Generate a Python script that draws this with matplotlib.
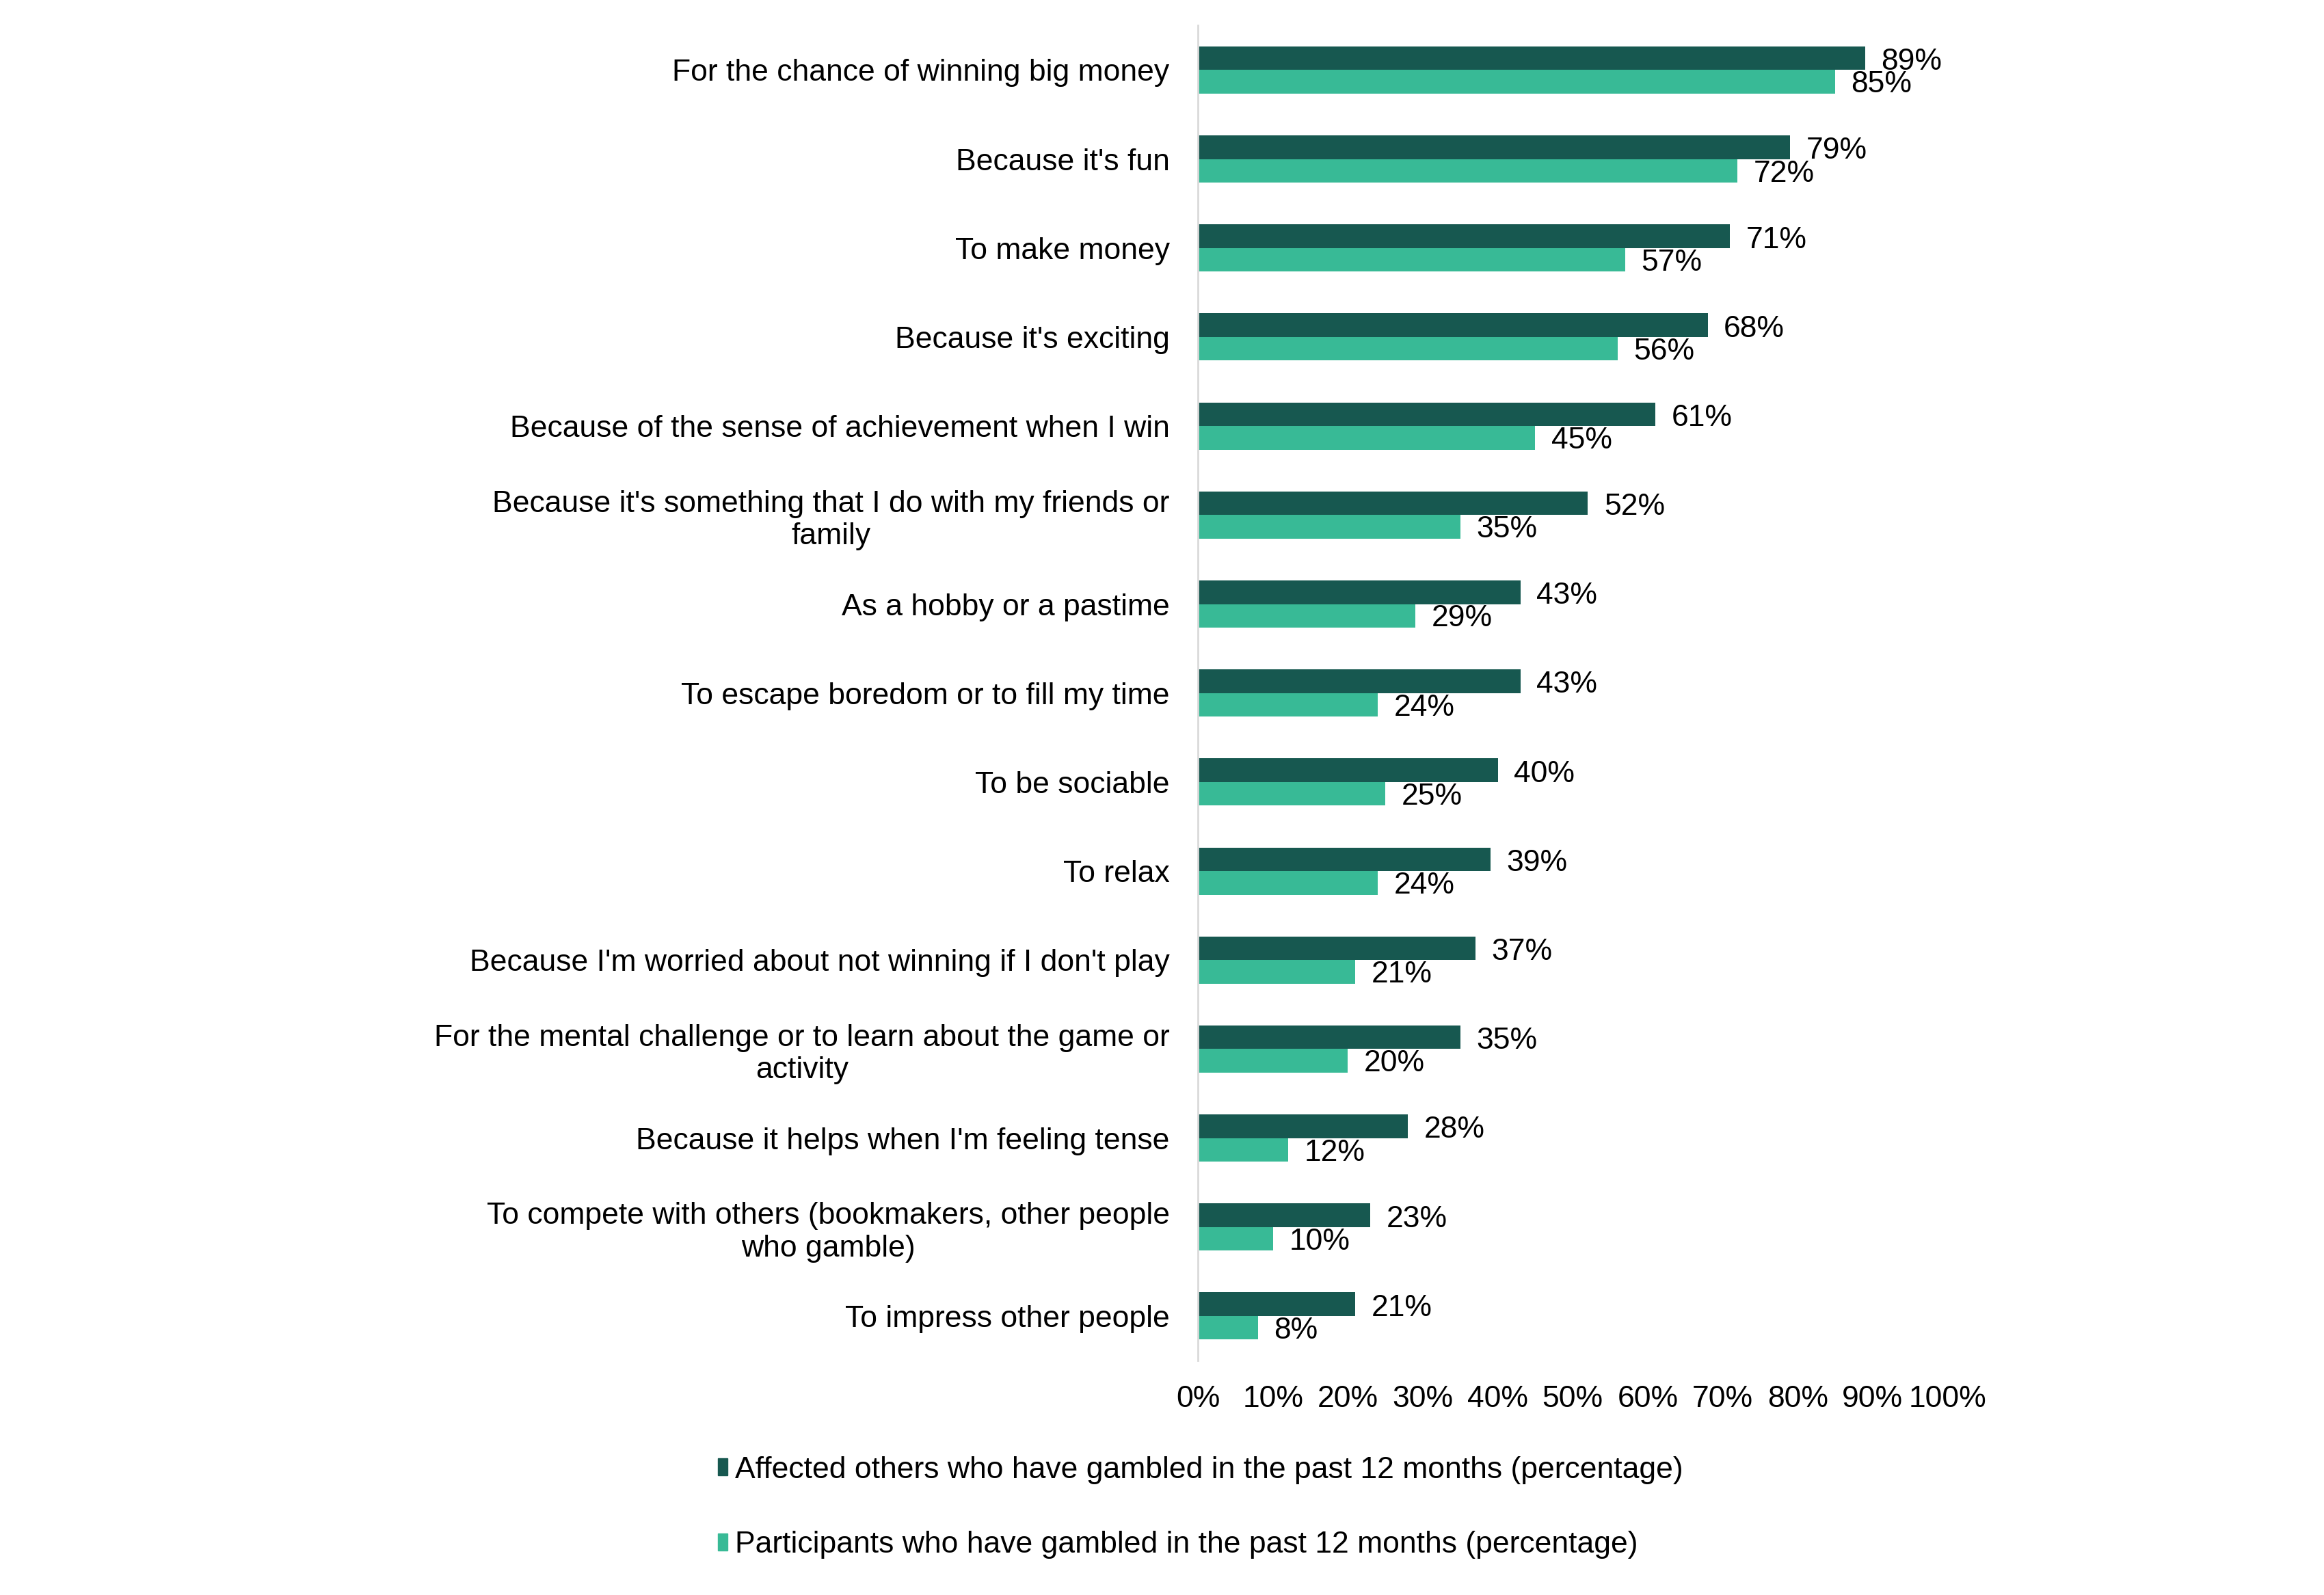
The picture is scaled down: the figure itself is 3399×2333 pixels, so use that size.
import matplotlib.pyplot as plt
import numpy as np
from matplotlib.patches import Patch

plt.rcParams['font.family'] = ['Liberation Sans', 'DejaVu Sans']

reasons = [
    "For the chance of winning big money",
    "Because it's fun",
    "To make money",
    "Because it's exciting",
    "Because of the sense of achievement when I win",
    "Because it's something that I do with my friends or\nfamily",
    "As a hobby or a pastime",
    "To escape boredom or to fill my time",
    "To be sociable",
    "To relax",
    "Because I'm worried about not winning if I don't play",
    "For the mental challenge or to learn about the game or\nactivity",
    "Because it helps when I'm feeling tense",
    "To compete with others (bookmakers, other people\nwho gamble)",
    "To impress other people",
]
affected = [89, 79, 71, 68, 61, 52, 43, 43, 40, 39, 37, 35, 28, 23, 21]
participants = [85, 72, 57, 56, 45, 35, 29, 24, 25, 24, 21, 20, 12, 10, 8]
xticks = [0, 10, 20, 30, 40, 50, 60, 70, 80, 90, 100]

dark = '#175850'
light = '#38BA96'
fs = 32

fig = plt.figure(figsize=(33.99, 23.33), dpi=100)
ax = fig.add_axes([0.5155, 0.147, 0.3225, 0.837])

y = np.arange(len(reasons))
h = 0.265
ax.barh(y - h / 2, affected, height=h, color=dark)
ax.barh(y + h / 2, participants, height=h, color=light)

for yi, a, p in zip(y, affected, participants):
    ax.annotate(f"{a}%", (a, yi - h / 2), xytext=(17, -4), textcoords='offset points',
                va='center', ha='left', fontsize=fs)
    ax.annotate(f"{p}%", (p, yi + h / 2), xytext=(17, -3), textcoords='offset points',
                va='center', ha='left', fontsize=fs)

ax.set_xlim(0, 100)
ax.set_ylim(len(reasons) - 0.5, -0.5)
ax.set_yticks(y)
ax.set_yticklabels(reasons, fontsize=fs, ha='right', multialignment='center')
ax.set_xticks(xticks)
ax.set_xticklabels([f"{t}%" for t in xticks], fontsize=fs)
ax.tick_params(axis='y', length=0, pad=30)
ax.tick_params(axis='x', length=0, pad=26)

for s in ['top', 'right', 'bottom']:
    ax.spines[s].set_visible(False)
ax.spines['left'].set_color('#D9D9D9')
ax.spines['left'].set_linewidth(2)

handles = [Patch(color=dark), Patch(color=light)]
labels = ["Affected others who have gambled in the past 12 months (percentage)",
          "Participants who have gambled in the past 12 months (percentage)"]
fig.legend(handles, labels, loc='center left', bbox_to_anchor=(1010 / 3399, 1 - 2205 / 2333),
           frameon=False, fontsize=fs, handlelength=0.32, handleheight=0.5,
           handletextpad=0.25, labelspacing=1.55)

plt.savefig("out.png")
